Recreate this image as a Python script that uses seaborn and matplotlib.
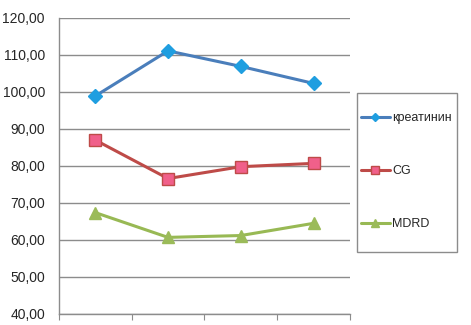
import pandas as pd
import seaborn as sns
import matplotlib.pyplot as plt
from matplotlib.patches import Rectangle

points = [1, 2, 3, 4]
kreatinin = [98.8, 111.0, 106.8, 102.2]
cg = [86.9, 76.5, 79.7, 80.6]
mdrd = [67.3, 60.6, 61.1, 64.4]
series_names = ['креатинин', 'CG', 'MDRD']

df = pd.DataFrame({
    'x': points * 3,
    'value': kreatinin + cg + mdrd,
    'series': [series_names[0]] * 4 + [series_names[1]] * 4 + [series_names[2]] * 4,
})

sns.set_style('white')
plt.rcParams['font.family'] = ['Liberation Sans', 'DejaVu Sans']

fig = plt.figure(figsize=(4.71, 3.25), dpi=100)
ax = fig.add_axes([0.125, 0.035, 0.618, 0.911])

line_colors = {'креатинин': '#4a7ebb', 'CG': '#be4b48', 'MDRD': '#98b954'}
marker_face = {'креатинин': '#1f9ee0', 'CG': '#f0608a', 'MDRD': '#9bbb59'}
marker_edge = {'креатинин': '#1f9ee0', 'CG': '#be4b48', 'MDRD': '#9bbb59'}
markers = {'креатинин': 'D', 'CG': 's', 'MDRD': '^'}
msize = {'креатинин': 7, 'CG': 9, 'MDRD': 9}

for name in series_names:
    sub = df[df['series'] == name]
    sns.lineplot(data=sub, x='x', y='value', ax=ax, color=line_colors[name],
                 linewidth=2.2, marker=markers[name], markersize=msize[name],
                 markerfacecolor=marker_face[name], markeredgecolor=marker_edge[name],
                 markeredgewidth=1, label=name)

ax.set_ylim(40, 120)
ax.set_yticks(range(40, 121, 10))
ax.set_yticklabels([f'{v},00' for v in range(40, 121, 10)], fontsize=10)
ax.set_xlim(0.5, 4.5)
ax.set_xticks([0.5, 1.5, 2.5, 3.5, 4.5])
ax.set_xticklabels([])
ax.set_xlabel('')
ax.set_ylabel('')
ax.grid(axis='y', color='#8c8c8c', linewidth=1)
ax.set_axisbelow(True)
for s in ['top', 'right']:
    ax.spines[s].set_visible(False)
for s in ['left', 'bottom']:
    ax.spines[s].set_color('#8c8c8c')
    ax.spines[s].set_linewidth(1)
ax.tick_params(axis='x', direction='out', length=4, color='#8c8c8c', bottom=True)
ax.tick_params(axis='y', length=0, pad=10)

handles, labels = ax.get_legend_handles_labels()
ax.legend_.remove()
fig.legend(handles, labels, loc='upper left', bbox_to_anchor=(0.758, 0.667),
           borderaxespad=0, frameon=False, fontsize=9,
           labelspacing=3.28, handlelength=2.3, handletextpad=0.2,
           borderpad=0.3, markerscale=0.6)
# legend box drawn separately so the vertical padding can differ from the horizontal one
fig.patches.append(Rectangle((357 / 471, 1 - 252 / 325), 100 / 471, 159 / 325,
                             transform=fig.transFigure, fill=False,
                             edgecolor='#8c8c8c', linewidth=1))

plt.savefig('out.png', dpi=100)
